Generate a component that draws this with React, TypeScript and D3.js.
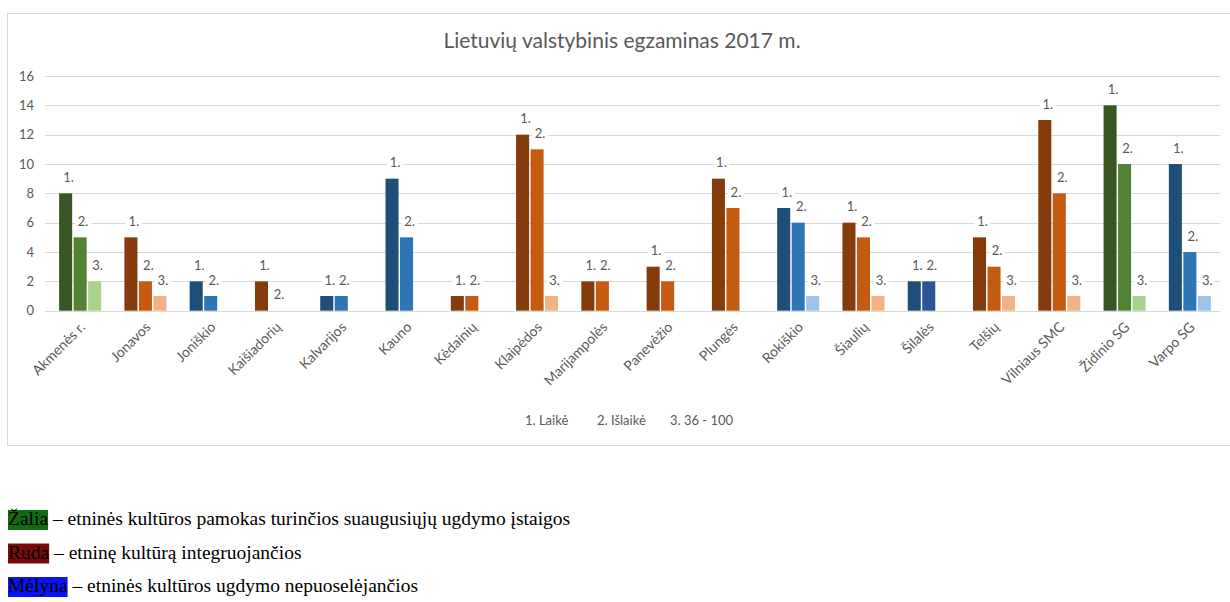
import React from "react";
import * as d3 from "d3";

const categories = ["Akmenės r.", "Jonavos", "Joniškio", "Kaišiadorių", "Kalvarijos", "Kauno", "Kėdainių", "Klaipėdos", "Marijampolės", "Panevėžio", "Plungės", "Rokiškio", "Šiaulių", "Šilalės", "Telšių", "Vilniaus SMC", "Židinio SG", "Varpo SG"];
const laike: (number | null)[] = [8, 5, 2, 2, 1, 9, 1, 12, 2, 3, 9, 7, 6, 2, 5, 13, 14, 10];
const islaike: (number | null)[] = [5, 2, 1, 0, 1, 5, 1, 11, 2, 2, 7, 6, 5, 2, 3, 8, 10, 4];
const range36: (number | null)[] = [2, 1, null, null, null, null, null, 1, null, null, null, 1, 1, null, 1, 1, 1, 1];
const groups = ["green", "brown", "blue", "brown", "blue", "blue", "brown", "brown", "brown", "brown", "brown", "blue", "brown", "navy", "brown", "brown", "green", "blue"];
const seriesNames = ["1. Laikė", "2. Išlaikė", "3. 36 - 100"];
const pointLabels = ["1.", "2.", "3."];
const yTicks = [0, 2, 4, 6, 8, 10, 12, 14, 16];
const title = "Lietuvių valstybinis egzaminas 2017 m.";
const notes = [
  { word: "Žalia", rest: "\u00A0– etninės kultūros pamokas turinčios suaugusiųjų ugdymo įstaigos", color: "#0E6B12" },
  { word: "Ruda", rest: "\u00A0– etninę kultūrą integruojančios", color: "#7A0A0A" },
  { word: "Mėlyna", rest: "\u00A0– etninės kultūros ugdymo nepuoselėjančios", color: "#0A14F0" },
];

const palette: Record<string, string[]> = {
  green: ["#375623", "#548235", "#A9D18E"],
  brown: ["#843C0C", "#C55A11", "#F4B183"],
  blue: ["#1F4E79", "#2E75B6", "#9DC3E6"],
  navy: ["#1F4E79", "#2F5597", "#8FAADC"],
};

const series = [laike, islaike, range36];

export default function App() {
  const W = 1230, H = 602;
  const x = d3.scaleBand<string>().domain(categories).range([47.5, 1222.5]).paddingInner(0.356).paddingOuter(0.178);
  const xi = d3.scaleBand<string>().domain(["0", "1", "2"]).range([0, x.bandwidth()]).paddingInner(0.1);
  const y = d3.scaleLinear().domain([0, 16]).range([310.7, 76]);
  const font = "Lato, 'Open Sans', sans-serif";
  const gray = "#595959";

  return (
    <svg width={W} height={H} style={{ position: "absolute", left: 0, top: 0, display: "block" }}>
      <rect x={0} y={0} width={W} height={H} fill="#fff" />
      <rect x={7.5} y={13.5} width={1240} height={432} fill="#fff" stroke="#D9D9D9" strokeWidth={1} />
      <text x={622} y={48} textAnchor="middle" fontFamily={font} fontSize={21} fill={gray}>{title}</text>
      {yTicks.map((t) => (
        <g key={t}>
          <line x1={45} x2={1220} y1={Math.round(y(t)) + 0.5} y2={Math.round(y(t)) + 0.5} stroke="#D9D9D9" strokeWidth={1} />
          <text x={34} y={y(t)} dy="0.35em" textAnchor="end" fontFamily={font} fontSize={13} fill={gray}>{t}</text>
        </g>
      ))}
      {categories.map((c, i) => (
        <g key={c}>
          {series.map((s, k) => {
            const v = s[i];
            if (v === null || v === undefined) return null;
            const bx = (x(c) as number) + (xi(String(k)) as number);
            const bw = xi.bandwidth();
            return (
              <rect key={k} x={bx} y={y(v)} width={bw} height={y(0) - y(v)} fill={palette[groups[i]][k]} />
            );
          })}
        </g>
      ))}
      {categories.map((c, i) => (
        <g key={c + "-lab"}>
          {series.map((s, k) => {
            const v = s[i];
            if (v === null || v === undefined) return null;
            const cx = (x(c) as number) + (xi(String(k)) as number) + xi.bandwidth() / 2 + 3;
            const cy = y(v) - 16;
            return (
              <g key={k}>
                <rect x={cx - 8} y={cy - 8} width={16} height={16} fill="#fff" />
                <text x={cx} y={cy} dy="0.35em" textAnchor="middle" fontFamily={font} fontSize={13} fill={gray}>{pointLabels[k]}</text>
              </g>
            );
          })}
        </g>
      ))}
      {categories.map((c) => {
        const cx = (x(c) as number) + x.bandwidth() / 2 + 6;
        const cy = 328;
        return (
          <text key={c + "-x"} x={cx} y={cy} textAnchor="end" transform={`rotate(-45 ${cx} ${cy})`} fontFamily={font} fontSize={14} fill={gray}>{c}</text>
        );
      })}
      <g fontFamily={font} fontSize={13} fill={gray}>
        <text x={525} y={425}>{seriesNames[0]}</text>
        <text x={597} y={425}>{seriesNames[1]}</text>
        <text x={670} y={425}>{seriesNames[2]}</text>
      </g>
      {notes.map((n, i) => {
        const by = 525 + i * 33.5;
        return (
          <g key={n.word}>
            <NoteLine x={8} y={by} word={n.word} rest={n.rest} color={n.color} />
          </g>
        );
      })}
    </svg>
  );
}

function NoteLine({ x, y, word, rest, color }: { x: number; y: number; word: string; rest: string; color: string }) {
  const ref = React.useRef<SVGTextElement>(null);
  const [w, setW] = React.useState(word.length * 9);
  React.useLayoutEffect(() => {
    if (ref.current) setW(ref.current.getComputedTextLength());
  }, [word]);
  const f = "'Liberation Serif', 'Times New Roman', serif";
  return (
    <g>
      <rect x={x} y={y - 15} width={w} height={20} fill={color} />
      <text ref={ref} x={x} y={y} fontFamily={f} fontSize={19.5} fill="#000">{word}</text>
      <text x={x + w} y={y} fontFamily={f} fontSize={19.5} fill="#000">{rest}</text>
    </g>
  );
}
